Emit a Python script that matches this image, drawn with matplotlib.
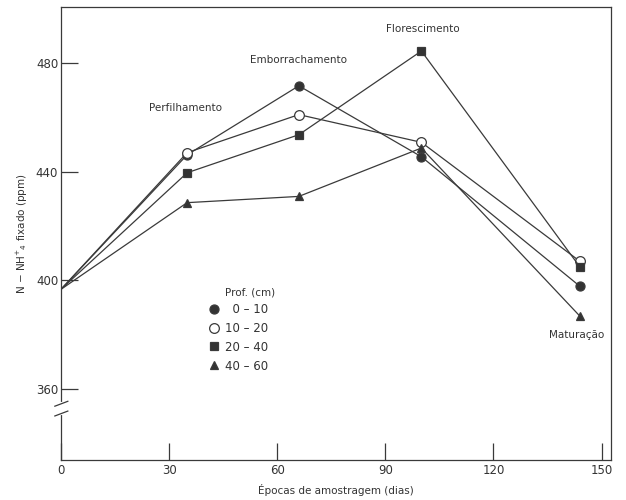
import matplotlib.pyplot as plt
from matplotlib.lines import Line2D

# sampling days and fixed NH4+ (ppm) per soil depth
days = [0, 35, 66, 100, 144]
prof_0_10 = [396.7, 446.2, 471.6, 445.5, 397.8]
prof_10_20 = [396.7, 447.0, 461.0, 450.8, 407.0]
prof_20_40 = [396.7, 439.6, 453.6, 484.4, 404.9]
prof_40_60 = [396.7, 428.6, 430.9, 448.7, 386.8]

series = [prof_0_10, prof_10_20, prof_20_40, prof_40_60]
labels = ['  0 \u2013 10', '10 \u2013 20', '20 \u2013 40', '40 \u2013 60']
markers = ['o', 'o', 's', '^']
faces = ['#333333', 'white', '#333333', '#333333']
sizes = [6.5, 7, 6, 6]

stages = ['Perfilhamento', 'Emborrachamento', 'Florescimento', 'Matura\u00e7\u00e3o']
stage_pos = [(34.5, 463.5), (66, 481), (100.5, 492.5), (143, 380)]

line_c = '#3a3a3a'
text_c = '#333333'

fig = plt.figure(figsize=(6.26, 5), dpi=100)
ax = fig.add_axes([0.0974, 0.08, 0.8786, 0.906])

for vals, m, fc, ms in zip(series, markers, faces, sizes):
    ax.plot(days, vals, color=line_c, lw=0.9, marker=m, ms=ms,
            mfc=fc, mec=line_c, mew=0.9, markevery=slice(1, None), zorder=3)

for name, (x, y) in zip(stages, stage_pos):
    ax.text(x, y, name, ha='center', va='center', fontsize=7.5, color=text_c)

ax.set_xlim(0, 152.6)
ax.set_ylim(333.9, 500.6)
ax.set_xticks([0, 30, 60, 90, 120, 150])
ax.set_yticks([360, 400, 440, 480])
ax.tick_params(direction='in', length=12, width=0.9, colors=line_c,
               labelcolor=text_c, labelsize=8.5)
ax.tick_params(axis='x', pad=3)
ax.tick_params(axis='y', pad=2)
for s in ax.spines.values():
    s.set_color(line_c)
    s.set_linewidth(0.9)

ax.set_xlabel('\u00c9pocas de amostragem (dias)', fontsize=7.5, color=text_c,
              labelpad=5)
ax.set_ylabel(r'N $-$ NH$^{+}$$_{4}$ fixado (ppm)', fontsize=7.5,
              color=text_c, labelpad=4)

# axis break on the y axis
ax.plot([0, 0], [351.2, 354.4], color='white', lw=3, clip_on=False, zorder=4)
for yb in (354.6, 351.0):
    ax.plot([-1.7, 1.9], [yb - 0.9, yb + 0.9], color=line_c, lw=0.9,
            clip_on=False, zorder=5)

# legend
ax.text(45.5, 395.5, 'Prof. (cm)', fontsize=7.5, color=text_c,
        ha='left', va='center')
handles = [Line2D([], [], ls='none', marker=m, ms=ms, mfc=fc, mec=line_c,
                  mew=0.9) for m, fc, ms in zip(markers, faces, sizes)]
leg = ax.legend(handles, labels, loc='upper left',
                bbox_to_anchor=(0.255, 0.36), frameon=False, fontsize=8.5,
                handletextpad=0.35, handlelength=1.2, borderpad=0,
                labelspacing=0.5, labelcolor=text_c)

fig.savefig('out.png', dpi=100)
